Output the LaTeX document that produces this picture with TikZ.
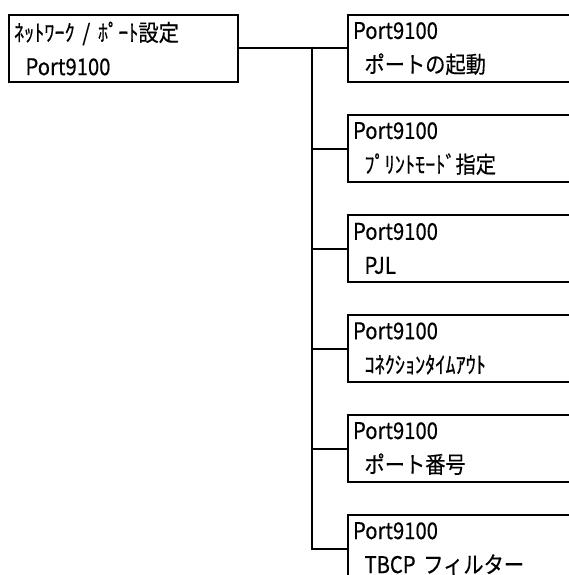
\documentclass[tikz,border=0pt]{standalone}
\usepackage{fontspec}
\setmainfont{Noto Sans CJK JP}[FakeStretch=0.88, FakeBold=0.4]

\begin{document}
\begin{tikzpicture}[x=1pt, y=-1pt,
  menubox/.style={draw, line width=2pt, anchor=north west, minimum height=67pt,
    align=left, inner xsep=5pt, inner ysep=0pt, font=\fontsize{23}{34}\selectfont},
  wire/.style={line width=2pt}]

\useasboundingbox (0,0) rectangle (569,575);

% ── Root menu ──
\node[menubox, text width=219pt] (root) at (8,14) {ﾈｯﾄﾜｰｸ / ﾎﾟｰﾄ設定\\\hspace*{0.5em}Port9100};

% ── Sub menus ──
\foreach \i/\y/\label in {1/14/ポートの起動, 2/114/ﾌﾟﾘﾝﾄﾓｰﾄﾞ指定, 3/214/PJL,
    4/314/ｺﾈｸｼｮﾝﾀｲﾑｱｳﾄ, 5/414/ポート番号, 6/514/TBCP フィルター} {
  \node[menubox, text width=260pt] (p\i) at (347,\y) {Port9100\\\hspace*{0.5em}\label};
}

% ── Connectors ──
\coordinate (bus) at (312,47);
\draw[wire] (root.east) -- (p1.west);
\foreach \i in {2,...,6}
  \draw[wire] (bus) |- (p\i.west);

\end{tikzpicture}
\end{document}
